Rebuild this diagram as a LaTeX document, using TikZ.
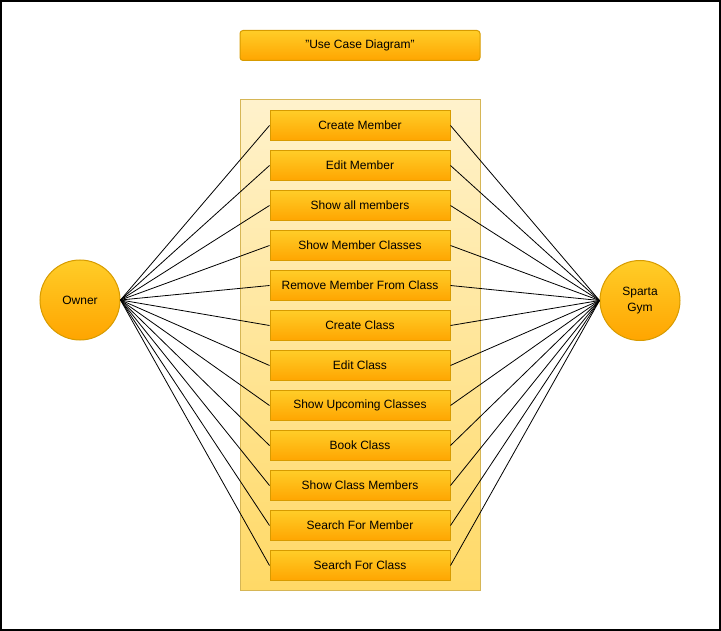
\documentclass[tikz,border=0pt]{standalone}
\usepackage{fontspec}
\setmainfont{Liberation Sans}
\definecolor{boxtop}{HTML}{FFCD28}
\definecolor{boxbot}{HTML}{FFA500}
\definecolor{boxline}{HTML}{D79B00}
\definecolor{conttop}{HTML}{FFF2CC}
\definecolor{contbot}{HTML}{FFD966}
\definecolor{contline}{HTML}{D6B656}
\tikzset{
  ucbox/.style={draw=boxline, line width=0.75pt, top color=boxtop, bottom color=boxbot,
    minimum width=135pt, minimum height=22.5pt, inner sep=0pt, font=\fontsize{9}{10.5}\selectfont},
  actor/.style={circle, draw=boxline, line width=0.75pt, top color=boxtop, bottom color=boxbot,
    minimum size=60pt, inner sep=0pt, align=center, font=\fontsize{9}{11.5}\selectfont},
  link/.style={draw=black, line width=0.6pt}
}
\begin{document}
\begin{tikzpicture}[x=0.75pt, y=-0.75pt]
\useasboundingbox (0,0) rectangle (721,631);
\draw[line width=1.2pt] (0.8,0.8) rectangle (720.2,630.2);
% title
\node[ucbox, rounded corners=2.25pt, minimum width=180pt] (title) at (360,45.5) {"Use Case Diagram"};
% container
\path[draw=contline, line width=0.75pt, top color=conttop, bottom color=contbot] (240,100) rectangle (480,590);
\node[actor] (owner) at (80,300) {Owner};
\node[actor] (gym) at (640,300.5) {Sparta\\Gym};
\foreach \i/\t in {0/Create Member,1/Edit Member,2/Show all members,3/Show Member Classes,
  4/Remove Member From Class,5/Create Class,6/Edit Class,7/Show Upcoming Classes,
  8/Book Class,9/Show Class Members,10/Search For Member,11/Search For Class}{
  \node[ucbox] (u\i) at (360,125.5+40*\i) {\t};
  \draw[link] (owner.east) -- (u\i.west);
  \draw[link] (u\i.east) -- (gym.west);
}
\end{tikzpicture}
\end{document}
